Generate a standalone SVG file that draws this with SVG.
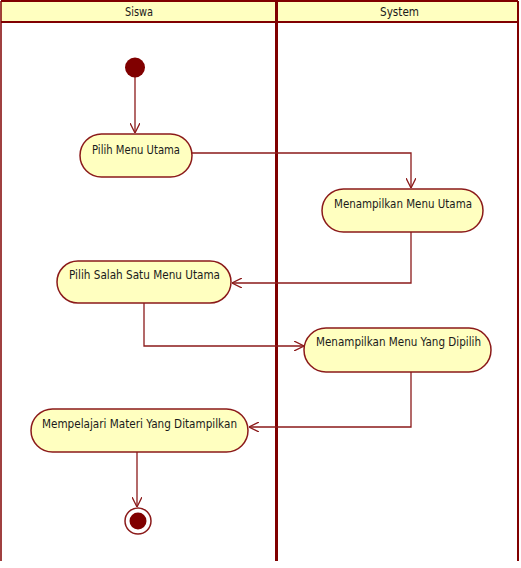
<svg xmlns="http://www.w3.org/2000/svg" width="521" height="568" viewBox="0 0 521 568">
<style>
.lane{fill:none;stroke:#800000}
.hdr{fill:#ffffc0;stroke:none}
.act{fill:#ffffc0;stroke:#8b1a1a;stroke-width:1.5}
.t{font-family:"DejaVu Sans","Liberation Sans",sans-serif;font-size:12px;fill:#1a1a1a}
.h{font-family:"DejaVu Sans","Liberation Sans",sans-serif;font-size:12px;fill:#1a1a1a;text-anchor:middle}
.c{fill:none;stroke:#8b1a1a;stroke-width:1.3}
</style>
<defs>
<marker id="arr" viewBox="0 0 10 10" refX="10" refY="5" markerWidth="10" markerHeight="10" markerUnits="userSpaceOnUse" orient="auto">
<path d="M0,0 L10,5 L0,10" fill="none" stroke="#8b1a1a" stroke-width="1.3"/>
</marker>
</defs>
<rect width="521" height="568" fill="#ffffff"/>
<g id="lanes">
<rect class="hdr" x="1" y="1" width="517" height="21"/>
<line class="lane" x1="1" y1="1" x2="518" y2="1" stroke-width="2"/>
<line class="lane" x1="1" y1="22" x2="518" y2="22" stroke-width="2"/>
<line class="lane" x1="1" y1="1" x2="1" y2="561" stroke-width="1.5"/>
<line class="lane" x1="276.5" y1="1" x2="276.5" y2="561" stroke-width="3"/>
<line class="lane" x1="518" y1="1" x2="518" y2="561" stroke-width="2"/>
<text class="h" x="139" y="16" textLength="28" lengthAdjust="spacingAndGlyphs">Siswa</text>
<text class="h" x="399.5" y="16" textLength="39" lengthAdjust="spacingAndGlyphs">System</text>
</g>
<g id="connectors">
<line class="c" x1="135" y1="77" x2="135" y2="133" marker-end="url(#arr)"/>
<polyline class="c" points="192,153 411,153 411,188" marker-end="url(#arr)"/>
<polyline class="c" points="411,232 411,283 232,283" marker-end="url(#arr)"/>
<polyline class="c" points="144,303 144,346 304,346" marker-end="url(#arr)"/>
<polyline class="c" points="411,372 411,427 249,427" marker-end="url(#arr)"/>
<line class="c" x1="137" y1="452" x2="137" y2="507" marker-end="url(#arr)"/>
</g>
<g id="start">
<circle cx="135" cy="67.5" r="10" fill="#800000"/>
</g>
<g id="n1">
<rect class="act" x="80" y="134" width="112" height="43" rx="21.5"/>
<text class="t" x="92" y="154" textLength="88" lengthAdjust="spacingAndGlyphs">Pilih Menu Utama</text>
</g>
<g id="n2">
<rect class="act" x="322" y="189" width="161" height="43" rx="21.5"/>
<text class="t" x="334" y="208" textLength="138" lengthAdjust="spacingAndGlyphs">Menampilkan Menu Utama</text>
</g>
<g id="n3">
<rect class="act" x="57" y="261" width="174" height="42" rx="21"/>
<text class="t" x="69" y="279" textLength="151" lengthAdjust="spacingAndGlyphs">Pilih Salah Satu Menu Utama</text>
</g>
<g id="n4">
<rect class="act" x="304" y="328" width="187" height="44" rx="22"/>
<text class="t" x="316" y="346" textLength="165" lengthAdjust="spacingAndGlyphs">Menampilkan Menu Yang Dipilih</text>
</g>
<g id="n5">
<rect class="act" x="31" y="409" width="217" height="43" rx="21.5"/>
<text class="t" x="42" y="428" textLength="195" lengthAdjust="spacingAndGlyphs">Mempelajari Materi Yang Ditampilkan</text>
</g>
<g id="end">
<circle cx="138" cy="521" r="13" fill="#ffffff" stroke="#8b1a1a" stroke-width="1.5"/>
<circle cx="138" cy="521" r="8.5" fill="#800000"/>
</g>
</svg>
